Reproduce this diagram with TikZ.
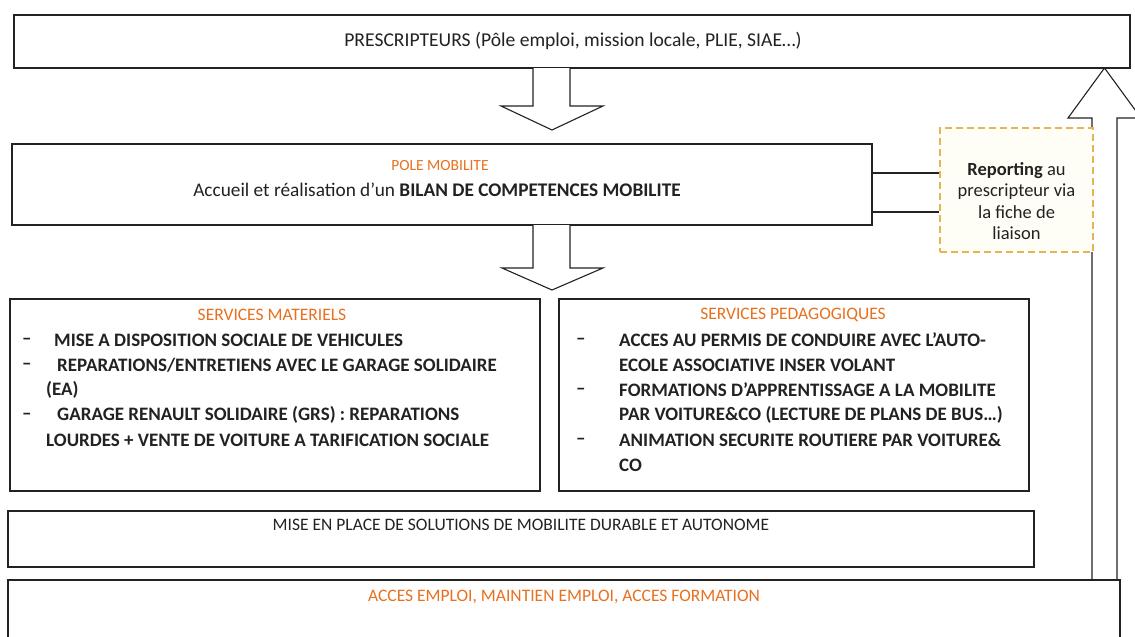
\documentclass[tikz,border=0pt]{standalone}
\usepackage{fontspec}
\setmainfont{Carlito}
\usetikzlibrary{calc}
\definecolor{ink}{RGB}{34,34,34}
\definecolor{orng}{RGB}{232,112,30}
\definecolor{gold}{RGB}{226,182,80}
\definecolor{cream}{RGB}{255,254,246}
\tikzset{
  box/.style={draw=ink, line width=1.3pt, fill=white, inner sep=0pt},
  blockarrow/.style={draw=ink, line width=1.1pt, fill=white, line join=miter},
  conn/.style={draw=ink, line width=1.1pt},
  reportbox/.style={draw=gold, line width=1.1pt, dash pattern=on 7pt off 4pt, fill=cream, inner sep=0pt},
  txt/.style={text=ink, inner sep=0pt, font=\fontsize{17.5}{21}\selectfont},
  item/.style={text=ink, inner sep=0pt, anchor=west, font=\fontsize{19}{23}\selectfont\bfseries},
  ttl/.style={text=orng, inner sep=0pt, font=\fontsize{17.5}{21}\selectfont},
}
\begin{document}
\begin{tikzpicture}[x=1pt,y=-1pt]
\useasboundingbox (0,0) rectangle (1135,637);

% up block arrow (drawn first, behind boxes)
\draw[blockarrow] (1092,582) -- (1092,118) -- (1068,118) -- (1104.5,68) -- (1141,118) -- (1117,118) -- (1117,582);

% top box
\node[box, minimum width=1116pt, minimum height=53pt] (presc) at (572,41.5) {};
\node[txt, font=\fontsize{19.6}{23}\selectfont] (prescT) at (573,41) {PRESCRIPTEURS (Pôle emploi, mission locale, PLIE, SIAE…)};

% arrow 1
\draw[blockarrow] (533,68) -- (533,106) -- (501,106) -- (552,130) -- (603,106) -- (570,106) -- (570,68);

% pole mobilite
\node[box, minimum width=860pt, minimum height=81pt] (pole) at (442,184.5) {};
\node[ttl, font=\fontsize{15.5}{19}\selectfont] (poleT) at (440,166) {POLE MOBILITE};
\node[txt, font=\fontsize{19.3}{23}\selectfont] (poleL) at (437,190) {Accueil et réalisation d’un \textbf{BILAN DE COMPETENCES MOBILITE}};

% reporting box
\node[reportbox, minimum width=153pt, minimum height=124pt] (report) at (1016.5,190) {};
\node[txt, align=center, font=\fontsize{18.5}{21.5}\selectfont] (reportT) at (1016.5,201) {\textbf{Reporting} au\\prescripteur via\\la fiche de\\liaison};

\draw[conn] ([yshift=11.5pt]pole.east) -- ([yshift=17pt]report.west);
\draw[conn] ([yshift=-27.5pt]pole.east) -- ([yshift=-22pt]report.west);

% arrow 2
\draw[blockarrow] (533,225) -- (533,268) -- (502,268) -- (552,290) -- (603,268) -- (570,268) -- (570,225);

% services materiels
\node[box, minimum width=530pt, minimum height=192pt] (mat) at (275,395) {};
\node[ttl] (matT) at (272,315) {SERVICES MATERIELS};
\node[item] (m1d) at (22,341) {–};
\node[item] (m1) at (54,340) {MISE A DISPOSITION SOCIALE DE VEHICULES};
\node[item] (m2d) at (22,366) {–};
\node[item] (m2) at (57,365) {REPARATIONS/ENTRETIENS AVEC LE GARAGE SOLIDAIRE};
\node[item] (m3) at (46,390) {(EA)};
\node[item] (m4d) at (22,416) {–};
\node[item] (m4) at (57,415) {GARAGE RENAULT SOLIDAIRE (GRS) : REPARATIONS};
\node[item] (m5) at (46,440) {LOURDES + VENTE DE VOITURE A TARIFICATION SOCIALE};

% services pedagogiques
\node[box, minimum width=470pt, minimum height=192pt] (ped) at (794,395) {};
\node[ttl] (pedT) at (793,315) {SERVICES PEDAGOGIQUES};
\node[item] (p1d) at (576,341) {–};
\node[item] (p1) at (619,340) {ACCES AU PERMIS DE CONDUIRE AVEC L’AUTO-};
\node[item] (p2) at (619,365) {ECOLE ASSOCIATIVE INSER VOLANT};
\node[item] (p3d) at (576,391) {–};
\node[item] (p3) at (619,390) {FORMATIONS D’APPRENTISSAGE A LA MOBILITE};
\node[item] (p4) at (619,415) {PAR VOITURE\&CO (LECTURE DE PLANS DE BUS…)};
\node[item] (p5d) at (576,441) {–};
\node[item] (p5) at (619,440) {ANIMATION SECURITE ROUTIERE PAR VOITURE\&};
\node[item] (p6) at (619,465) {CO};

% mise en place
\node[box, minimum width=1026pt, minimum height=56pt] (mise) at (521,539) {};
\node[txt] (miseT) at (521,525) {MISE EN PLACE DE SOLUTIONS DE MOBILITE DURABLE ET AUTONOME};

% final box
\node[box, minimum width=1112pt, minimum height=70pt] (final) at (564,615) {};
\node[ttl] (finalT) at (564,597) {ACCES EMPLOI, MAINTIEN EMPLOI, ACCES FORMATION};
\end{tikzpicture}
\end{document}
